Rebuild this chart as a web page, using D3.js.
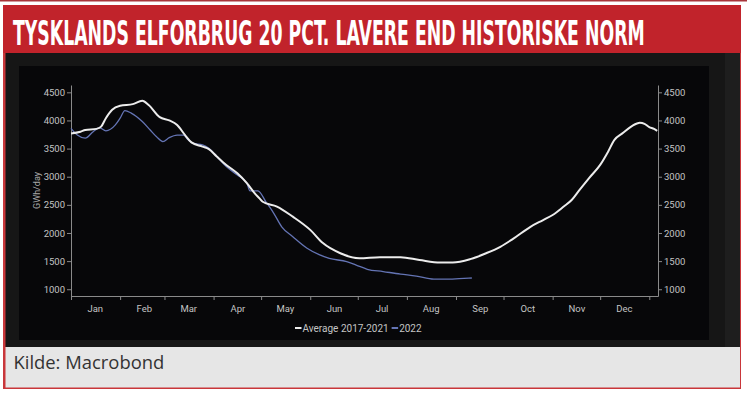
<!DOCTYPE html>
<html>
<head>
<meta charset="utf-8">
<script src="https://cdn.jsdelivr.net/npm/d3@7"></script>
<style>
  html, body { margin: 0; padding: 0; background: #ffffff; }
  svg { display: block; }
</style>
</head>
<body>
<div id="chart"></div>
<script>
// Data (day of year from 1 Jan, GWh/day)
const avgDays = [0, 6, 9, 16, 19, 22, 26, 31, 39, 45, 49, 56, 62, 67, 72, 76, 83, 87, 92, 98, 105, 111, 116, 119, 121, 130, 140, 151, 159, 170, 182, 195, 208, 220, 233, 241, 252, 262, 271, 279, 290, 298, 304, 311, 316, 321, 327, 334, 339, 343, 348, 354, 359, 362, 365, 368, 370]
const avgValues = [3770, 3800, 3830, 3850, 3890, 4040, 4190, 4260, 4290, 4350, 4275, 4060, 4000, 3920, 3740, 3610, 3535, 3490, 3360, 3210, 3060, 2885, 2705, 2615, 2555, 2470, 2290, 2055, 1820, 1640, 1550, 1570, 1570, 1520, 1475, 1475, 1535, 1640, 1755, 1895, 2110, 2230, 2320, 2470, 2585, 2765, 2975, 3210, 3445, 3655, 3770, 3900, 3960, 3940, 3880, 3850, 3815]

const days2022 = [0, 4, 9, 14, 18, 22, 28, 31, 34, 38, 45, 50, 54, 58, 62, 67, 71, 74, 77, 83, 87, 92, 98, 105, 111, 113, 118, 123, 128, 133, 140, 149, 157, 163, 174, 180, 187, 197, 208, 218, 229, 239, 245, 253]
const values2022 = [3860, 3740, 3685, 3800, 3870, 3815, 3920, 4040, 4175, 4130, 3980, 3830, 3710, 3625, 3695, 3740, 3740, 3655, 3595, 3565, 3505, 3360, 3180, 3030, 2885, 2750, 2750, 2555, 2350, 2110, 1935, 1730, 1610, 1550, 1490, 1430, 1355, 1315, 1270, 1235, 1180, 1180, 1190, 1200]

const yTicks = [1000, 1500, 2000, 2500, 3000, 3500, 4000, 4500]
const monthLabels = ['Jan', 'Feb', 'Mar', 'Apr', 'May', 'Jun', 'Jul', 'Aug', 'Sep', 'Oct', 'Nov', 'Dec']
const seriesNames = ['Average 2017-2021', '2022']

// Text
const titleText = 'TYSKLANDS ELFORBRUG 20 PCT. LAVERE END HISTORISKE NORM'
const sourceText = 'Kilde: Macrobond'
const yLabelText = 'GWh/day'

// Colors
const titleRed = '#c1232b'
const borderRed = '#c9363a'
const panelColor = '#161616'
const panelStrip = '#1e1e1e'
const plotColor = '#070709'
const captionColor = '#e6e6e6'
const axisColor = '#8a8a8a'
const labelColor = '#c4c4c4'
const avgColor = '#ececec'
const color2022 = '#6474b4'

// Dimensions
const width = 747
const height = 396
const plotLeft = 71
const plotRight = 658
const plotTop = 85
const plotBottom = 296
const titleWidth = 632
const titleCapHeight = 24
const yearStart = new Date(2022, 0, 1)

const svg = d3.select('#chart')
    .append('svg')
    .attr('width', width)
    .attr('height', height)

// Frame
svg.append('rect').attr('x', 0).attr('y', 0).attr('width', width).attr('height', 1.5).attr('fill', '#a8343a')
svg.append('rect').attr('x', 3).attr('y', 5).attr('width', 738).attr('height', 384).attr('fill', borderRed)
svg.append('rect').attr('x', 5.5).attr('y', 53).attr('width', 734.5).attr('height', 294).attr('fill', panelColor)
svg.append('rect').attr('x', 725).attr('y', 53).attr('width', 15).attr('height', 294).attr('fill', panelStrip)
svg.append('rect').attr('x', 5.5).attr('y', 347).attr('width', 734.5).attr('height', 40.5).attr('fill', captionColor)
svg.append('rect').attr('x', 3).attr('y', 5).attr('width', 738).attr('height', 48).attr('fill', titleRed)
svg.append('rect').attr('x', 19).attr('y', 66).attr('width', 690).attr('height', 274).attr('fill', plotColor)

// Title: size the font so its natural width fits, then stretch it vertically
const title = svg.append('text')
    .style('font-family', '"Liberation Sans Narrow", "DejaVu Sans Condensed", sans-serif')
    .style('font-weight', 'bold')
    .style('font-size', '20px')
    .attr('fill', '#ffffff')
    .text(titleText)
const titleSize = 20 * titleWidth / title.node().getComputedTextLength()
title.style('font-size', titleSize + 'px')
const stretch = titleCapHeight / (titleSize * 0.72)
title.attr('transform', `translate(13,44.5) scale(1,${stretch})`)

svg.append('text')
    .attr('x', 13.5)
    .attr('y', 368.5)
    .style('font-family', '"Open Sans", sans-serif')
    .style('font-size', '18.4px')
    .attr('fill', '#333333')
    .text(sourceText)

// Scales
const x = d3.scaleTime()
    .domain([yearStart, d3.timeHour.offset(yearStart, 370.5 * 24)])
    .range([plotLeft, plotRight])

const y = d3.scaleLinear()
    .domain([880, 4630])
    .range([plotBottom, plotTop])

const toDate = d => d3.timeDay.offset(yearStart, d)

// Axes
function styleAxis(g) {
    g.selectAll('path, line').attr('stroke', axisColor)
    g.selectAll('text')
        .attr('fill', labelColor)
        .style('font-family', 'Roboto, sans-serif')
        .style('font-size', '9.5px')
}

svg.append('g')
    .attr('transform', `translate(${plotLeft},0)`)
    .call(d3.axisLeft(y).tickValues(yTicks).tickFormat(d3.format('d')).tickSize(4).tickSizeOuter(0).tickPadding(2))
    .call(styleAxis)

svg.append('g')
    .attr('transform', `translate(${plotRight},0)`)
    .call(d3.axisRight(y).tickValues(yTicks).tickFormat(d3.format('d')).tickSize(4).tickSizeOuter(0).tickPadding(2))
    .call(styleAxis)

const monthStarts = d3.range(13).map(m => new Date(2022, m, 1))
svg.append('g')
    .attr('transform', `translate(0,${plotBottom})`)
    .call(d3.axisBottom(x).tickValues(monthStarts).tickFormat('').tickSize(4).tickSizeOuter(0))
    .call(styleAxis)

const monthMids = monthLabels.map((m, i) => new Date(2022, i, 16))
svg.append('g')
    .attr('transform', `translate(0,${plotBottom})`)
    .call(d3.axisBottom(x).tickValues(monthMids).tickFormat((d, i) => monthLabels[i]).tickSize(0).tickPadding(9))
    .call(styleAxis)
    .call(g => g.select('.domain').remove())

svg.append('text')
    .attr('transform', `translate(40,${(plotTop + plotBottom) / 2}) rotate(-90)`)
    .attr('text-anchor', 'middle')
    .attr('fill', '#a8a8a8')
    .style('font-family', 'Roboto, sans-serif')
    .style('font-size', '9px')
    .text(yLabelText)

// Lines
const lineGen = d3.line()
    .x(d => x(toDate(d[0])))
    .y(d => y(d[1]))
    .curve(d3.curveMonotoneX)

svg.append('path')
    .datum(d3.zip(days2022, values2022))
    .attr('d', lineGen)
    .attr('fill', 'none')
    .attr('stroke', color2022)
    .attr('stroke-width', 1.3)

svg.append('path')
    .datum(d3.zip(avgDays, avgValues))
    .attr('d', lineGen)
    .attr('fill', 'none')
    .attr('stroke', avgColor)
    .attr('stroke-width', 2)

// Legend
const legend = svg.append('g').attr('transform', 'translate(295,328)')
let lx = 0
seriesNames.forEach((name, i) => {
    legend.append('line')
        .attr('x1', lx).attr('x2', lx + 6.5)
        .attr('y1', 0).attr('y2', 0)
        .attr('stroke', i === 0 ? avgColor : color2022)
        .attr('stroke-width', 2)
    const t = legend.append('text')
        .attr('x', lx + 7.5)
        .attr('y', 3.6)
        .attr('fill', labelColor)
        .style('font-family', 'Roboto, sans-serif')
        .style('font-size', '10px')
        .text(name)
    lx += 7.5 + t.node().getComputedTextLength() + 3
})
</script>
</body>
</html>
